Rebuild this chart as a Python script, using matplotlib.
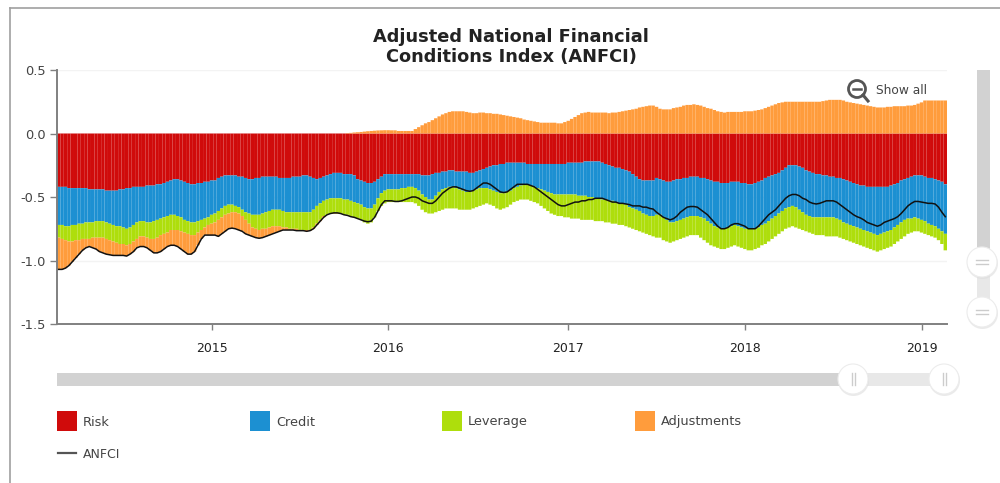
# uses python3
import matplotlib
matplotlib.use("Agg")
import matplotlib.pyplot as plt
from matplotlib.patches import Circle, Rectangle
import numpy as np
import pandas as pd

weeks = pd.date_range("2014-02-21", periods=262, freq="7D")

# lower edge of each stacked layer, week by week
risk = [
    -.42, -.42, -.42, -.43, -.43, -.43, -.43, -.43, -.43, -.44,
    -.44, -.44, -.44, -.44, -.45, -.45, -.45, -.45, -.44, -.44,
    -.43, -.43, -.42, -.42, -.42, -.42, -.41, -.41, -.41, -.40,
    -.40, -.39, -.38, -.37, -.36, -.36, -.37, -.38, -.39, -.40,
    -.40, -.39, -.39, -.38, -.38, -.37, -.37, -.35, -.34, -.33,
    -.33, -.33, -.33, -.34, -.34, -.35, -.36, -.36, -.35, -.35,
    -.34, -.34, -.34, -.34, -.34, -.35, -.35, -.35, -.35, -.34,
    -.34, -.34, -.33, -.33, -.34, -.35, -.36, -.35, -.34, -.33,
    -.32, -.31, -.31, -.31, -.32, -.32, -.32, -.33, -.36, -.37,
    -.38, -.39, -.39, -.38, -.36, -.34, -.32, -.32, -.32, -.32,
    -.32, -.32, -.32, -.32, -.32, -.32, -.32, -.33, -.33, -.33,
    -.32, -.31, -.31, -.30, -.30, -.29, -.29, -.30, -.30, -.30,
    -.30, -.31, -.31, -.30, -.29, -.28, -.27, -.26, -.25, -.25,
    -.24, -.24, -.23, -.23, -.23, -.23, -.23, -.23, -.24, -.24,
    -.24, -.24, -.24, -.24, -.24, -.24, -.24, -.24, -.24, -.24,
    -.23, -.23, -.23, -.23, -.23, -.22, -.22, -.22, -.22, -.22,
    -.23, -.24, -.25, -.26, -.27, -.27, -.28, -.29, -.30, -.32,
    -.34, -.36, -.37, -.37, -.37, -.37, -.35, -.36, -.37, -.38,
    -.38, -.37, -.36, -.36, -.35, -.35, -.34, -.34, -.34, -.35,
    -.35, -.36, -.37, -.38, -.38, -.39, -.39, -.39, -.38, -.38,
    -.38, -.39, -.39, -.40, -.40, -.39, -.38, -.37, -.35, -.34,
    -.33, -.32, -.31, -.29, -.27, -.25, -.25, -.25, -.26, -.27,
    -.29, -.30, -.31, -.32, -.32, -.33, -.33, -.34, -.34, -.35,
    -.35, -.36, -.37, -.38, -.39, -.40, -.41, -.41, -.42, -.42,
    -.42, -.42, -.42, -.42, -.42, -.41, -.40, -.39, -.37, -.36,
    -.35, -.34, -.33, -.33, -.33, -.34, -.35, -.35, -.36, -.37, -.38, -.40]

credit_floor = [
    -.72, -.72, -.73, -.73, -.72, -.72, -.71, -.71, -.70, -.70,
    -.70, -.69, -.69, -.69, -.70, -.71, -.72, -.73, -.73, -.74,
    -.75, -.74, -.72, -.70, -.69, -.69, -.70, -.70, -.69, -.68,
    -.67, -.66, -.65, -.64, -.64, -.65, -.66, -.68, -.69, -.70,
    -.70, -.69, -.68, -.67, -.66, -.64, -.63, -.61, -.59, -.57,
    -.56, -.56, -.57, -.58, -.60, -.62, -.63, -.64, -.64, -.64,
    -.63, -.62, -.61, -.60, -.60, -.60, -.61, -.62, -.62, -.62,
    -.62, -.62, -.62, -.62, -.62, -.60, -.57, -.55, -.53, -.52,
    -.51, -.51, -.51, -.51, -.52, -.52, -.53, -.54, -.55, -.56,
    -.58, -.59, -.59, -.56, -.51, -.47, -.45, -.44, -.44, -.44,
    -.44, -.43, -.43, -.42, -.42, -.43, -.45, -.48, -.50, -.52,
    -.52, -.49, -.46, -.44, -.43, -.42, -.42, -.43, -.44, -.45,
    -.46, -.46, -.45, -.44, -.43, -.43, -.43, -.44, -.45, -.46,
    -.47, -.47, -.46, -.45, -.43, -.42, -.41, -.40, -.40, -.41,
    -.42, -.43, -.44, -.45, -.46, -.47, -.48, -.48, -.48, -.48,
    -.48, -.48, -.48, -.49, -.49, -.49, -.50, -.50, -.51, -.51,
    -.52, -.52, -.53, -.53, -.54, -.55, -.55, -.56, -.58, -.59,
    -.60, -.61, -.63, -.64, -.65, -.65, -.64, -.64, -.66, -.68,
    -.70, -.70, -.69, -.68, -.67, -.66, -.65, -.65, -.65, -.66,
    -.67, -.69, -.71, -.73, -.74, -.75, -.75, -.74, -.73, -.72,
    -.73, -.74, -.75, -.75, -.75, -.75, -.74, -.72, -.71, -.69,
    -.67, -.65, -.63, -.61, -.59, -.58, -.57, -.58, -.60, -.62,
    -.64, -.65, -.66, -.66, -.66, -.66, -.66, -.66, -.66, -.67,
    -.68, -.70, -.71, -.72, -.73, -.74, -.75, -.76, -.77, -.78,
    -.79, -.80, -.79, -.78, -.77, -.76, -.74, -.72, -.70, -.68,
    -.67, -.67, -.66, -.67, -.68, -.69, -.71, -.72, -.73, -.75, -.77, -.79]

leverage_floor = [
    -.82, -.83, -.84, -.85, -.85, -.84, -.84, -.83, -.83, -.83,
    -.82, -.82, -.82, -.82, -.83, -.84, -.85, -.86, -.87, -.87,
    -.88, -.87, -.85, -.83, -.81, -.81, -.82, -.83, -.83, -.82,
    -.80, -.79, -.78, -.76, -.76, -.76, -.77, -.78, -.79, -.80,
    -.80, -.78, -.76, -.74, -.72, -.71, -.70, -.68, -.66, -.64,
    -.63, -.62, -.62, -.63, -.65, -.68, -.71, -.74, -.75, -.76,
    -.75, -.75, -.74, -.73, -.73, -.73, -.74, -.74, -.75, -.75,
    -.75, -.76, -.76, -.76, -.76, -.74, -.71, -.68, -.65, -.64,
    -.63, -.63, -.63, -.63, -.64, -.64, -.65, -.66, -.67, -.68,
    -.70, -.71, -.70, -.66, -.61, -.57, -.55, -.54, -.54, -.54,
    -.54, -.54, -.54, -.54, -.54, -.55, -.57, -.60, -.62, -.63,
    -.63, -.62, -.61, -.60, -.59, -.59, -.59, -.59, -.60, -.60,
    -.60, -.60, -.59, -.58, -.57, -.56, -.55, -.56, -.57, -.59,
    -.60, -.59, -.58, -.56, -.54, -.53, -.52, -.52, -.52, -.53,
    -.54, -.55, -.57, -.59, -.61, -.63, -.64, -.65, -.65, -.66,
    -.66, -.67, -.67, -.67, -.68, -.68, -.68, -.68, -.69, -.69,
    -.69, -.70, -.70, -.71, -.71, -.72, -.72, -.73, -.74, -.75,
    -.76, -.77, -.78, -.79, -.80, -.81, -.82, -.82, -.84, -.85,
    -.86, -.85, -.84, -.83, -.82, -.81, -.80, -.80, -.80, -.82,
    -.84, -.86, -.88, -.89, -.90, -.91, -.91, -.90, -.89, -.88,
    -.89, -.90, -.91, -.92, -.92, -.91, -.90, -.88, -.87, -.85,
    -.83, -.81, -.79, -.77, -.75, -.74, -.73, -.74, -.75, -.76,
    -.77, -.78, -.79, -.80, -.80, -.80, -.81, -.81, -.81, -.81,
    -.82, -.83, -.84, -.85, -.86, -.87, -.88, -.89, -.90, -.91,
    -.92, -.93, -.92, -.91, -.90, -.89, -.87, -.85, -.83, -.81,
    -.79, -.78, -.77, -.77, -.78, -.79, -.80, -.81, -.82, -.84, -.87, -.92]

anfci = [
    -1.07, -1.07, -1.06, -1.04, -1.01, -.98, -.95, -.92, -.90, -.89,
    -.90, -.91, -.93, -.94, -.95, -.955, -.96, -.96, -.96, -.96,
    -.965, -.95, -.93, -.90, -.89, -.89, -.90, -.92, -.94, -.94,
    -.93, -.91, -.89, -.88, -.88, -.89, -.91, -.93, -.95, -.95,
    -.93, -.88, -.83, -.80, -.80, -.80, -.80, -.81, -.79, -.77,
    -.75, -.745, -.75, -.76, -.77, -.79, -.80, -.81, -.82, -.825,
    -.82, -.81, -.80, -.79, -.78, -.77, -.76, -.76, -.76, -.76,
    -.765, -.765, -.765, -.77, -.765, -.75, -.72, -.69, -.66, -.64,
    -.63, -.625, -.625, -.63, -.64, -.645, -.655, -.66, -.67, -.68,
    -.69, -.695, -.69, -.66, -.61, -.56, -.53, -.53, -.53, -.535,
    -.535, -.53, -.52, -.51, -.50, -.50, -.51, -.53, -.54, -.55,
    -.55, -.53, -.50, -.47, -.45, -.43, -.42, -.42, -.43, -.44,
    -.45, -.455, -.45, -.43, -.41, -.39, -.39, -.40, -.42, -.44,
    -.46, -.465, -.46, -.44, -.42, -.40, -.40, -.40, -.40, -.41,
    -.42, -.44, -.46, -.48, -.50, -.52, -.54, -.56, -.57, -.57,
    -.56, -.55, -.54, -.54, -.53, -.53, -.52, -.52, -.51, -.51,
    -.51, -.52, -.53, -.54, -.54, -.55, -.55, -.555, -.56, -.57,
    -.57, -.57, -.58, -.58, -.59, -.595, -.62, -.64, -.66, -.67,
    -.68, -.67, -.65, -.62, -.60, -.58, -.575, -.575, -.58, -.60,
    -.62, -.64, -.67, -.70, -.73, -.75, -.75, -.74, -.72, -.71,
    -.71, -.72, -.73, -.75, -.75, -.75, -.73, -.70, -.67, -.64,
    -.62, -.60, -.57, -.54, -.51, -.49, -.48, -.48, -.49, -.51,
    -.52, -.54, -.55, -.555, -.55, -.54, -.53, -.53, -.53, -.54,
    -.56, -.58, -.60, -.62, -.64, -.655, -.665, -.68, -.70, -.71,
    -.72, -.73, -.72, -.70, -.69, -.68, -.67, -.655, -.63, -.60,
    -.57, -.55, -.535, -.535, -.54, -.545, -.55, -.55, -.555, -.58, -.62, -.655]

# adjustments turn positive from week 83 on
adj_start = 83
adjustments_up = [
    0, 0, .003, .005, .008, .01, .012,
    .015, .018, .02, .022, .024, .025, .026, .026, .025, .025,
    .02, .02, .02, .02, .02, .035, .05, .065, .08, .09,
    .105, .12, .135, .15, .16, .17, .175, .175, .175, .175,
    .17, .165, .16, .16, .165, .165, .16, .16, .155, .155,
    .15, .145, .14, .135, .13, .125, .12, .11, .105, .10,
    .095, .09, .085, .085, .085, .085, .085, .08, .08, .09,
    .10, .115, .13, .145, .16, .165, .17, .165, .165, .165,
    .165, .165, .16, .165, .165, .17, .175, .18, .185, .19,
    .195, .205, .21, .215, .22, .22, .21, .195, .19, .19,
    .19, .20, .205, .21, .22, .225, .225, .23, .225, .22,
    .21, .20, .195, .185, .175, .17, .165, .17, .17, .17,
    .17, .17, .175, .175, .175, .18, .185, .19, .20, .21,
    .22, .23, .24, .245, .25, .25, .25, .25, .25, .25,
    .25, .25, .25, .25, .25, .255, .26, .265, .265, .265,
    .265, .26, .25, .245, .24, .235, .23, .225, .22, .215,
    .21, .205, .205, .205, .21, .21, .215, .215, .215, .215,
    .22, .22, .225, .235, .245, .26, .26, .26, .26, .26, .26, .26]

legend_names = ["Risk", "Credit", "Leverage", "Adjustments"]
colors = ["#d00b0b", "#1c90d2", "#aede0c", "#ff9c3c"]
yticks = [0.5, 0.0, -0.5, -1.0, -1.5]

GREY = "#808080"
TXT = "#444444"

fig = plt.figure(figsize=(10, 4.83), dpi=100)
W = 1000.0; H = 483.0

# page level stuff (frame, sliders, legend) is drawn in pixel coordinates
page = fig.add_axes([0, 0, 1, 1], zorder=3)
page.set_xlim(0, W); page.set_ylim(H, 0)
page.axis("off")

ax = fig.add_axes([57 / W, 1 - 324 / H, 890 / W, 254 / H], zorder=1)
x = np.arange(len(weeks))
r = np.array(risk); c = np.array(credit_floor); l = np.array(leverage_floor); a = np.array(anfci)
up = np.zeros(len(x)); up[adj_start:] = adjustments_up
down = np.where(x < adj_start, a - l, 0)

# full width bars with snapping off, only faint seams stay between them
def stack(vals, base, col):
    bars = ax.bar(x, vals, 1.0, bottom=base, color=col, linewidth=0)
    for b in bars:
        b.set_snap(False)

stack(r, 0, colors[0])
stack(c - r, r, colors[1])
stack(l - c, c, colors[2])
stack(down, l, colors[3])
stack(up, 0, colors[3])
ax.plot(x, a, color="#111111", lw=1.1, zorder=4)

ax.set_xlim(-0.5, len(x) - 0.5)
ax.set_ylim(-1.5, 0.5)
ax.set_yticks(yticks)
ax.set_yticklabels(["%.1f" % v for v in yticks], fontsize=9.4, color=TXT)
ax.yaxis.grid(True, color="#f3f3f3", lw=1)
ax.set_axisbelow(True)

# first week of each year gets a tick
first = [i for i in x if i > 0 and weeks[i].year != weeks[i - 1].year]
ax.set_xticks(first)
ax.set_xticklabels([str(weeks[i].year) for i in first], fontsize=9, color="#222222")
ax.tick_params(axis="x", length=4, width=1, color=GREY, pad=9)
ax.tick_params(axis="y", length=5, width=1, color=GREY, pad=3)
for s in ["top", "right"]:
    ax.spines[s].set_visible(False)
for s in ["left", "bottom"]:
    ax.spines[s].set_color(GREY)
    ax.spines[s].set_linewidth(1.4)

page.text(511, 47, "Adjusted National Financial\nConditions Index (ANFCI)", ha="center", va="center",
          fontsize=12.8, fontweight="bold", color="#222222", linespacing=1.08)

# outer frame
page.plot([9.5, 9.5], [H, 8], color="#a0a0a0", lw=1.2)
page.plot([9.5, W], [8, 8], color="#a0a0a0", lw=1.2)

# show all button
page.add_patch(Circle((857, 89), 8.5, fc="none", ec="#555555", lw=2))
page.plot([853, 861], [89, 89], color="#555555", lw=1.8)
page.plot([863, 868], [95, 101], color="#555555", lw=2.2)
page.text(876, 91, "Show all", fontsize=8.8, color=TXT, va="center")

def handle(cx, cy, vertical):
    page.add_patch(Circle((cx + 0.5, cy + 1.5), 15.5, fc="#dddddd", ec="none", alpha=0.6))
    page.add_patch(Circle((cx, cy), 15, fc="white", ec="#ececec", lw=0.8))
    if vertical:
        page.plot([cx - 6, cx + 6], [cy - 2, cy - 2], color="#cccccc", lw=1)
        page.plot([cx - 6, cx + 6], [cy + 2, cy + 2], color="#cccccc", lw=1)
    else:
        page.plot([cx - 1.5, cx - 1.5], [cy - 6, cy + 6], color="#cccccc", lw=1)
        page.plot([cx + 1.5, cx + 1.5], [cy - 6, cy + 6], color="#cccccc", lw=1)

# vertical range slider
page.add_patch(Rectangle((977, 70), 12.5, 192, fc="#d2d2d2", ec="none"))
page.add_patch(Rectangle((977, 262), 12.5, 50, fc="#e8e8e8", ec="none"))
handle(982, 262, True)
handle(982, 312, True)

# horizontal range slider
page.add_patch(Rectangle((57, 373), 796, 13, fc="#d2d2d2", ec="none"))
page.add_patch(Rectangle((853, 373), 91, 13, fc="#e8e8e8", ec="none"))
handle(853, 379, False)
handle(944, 379, False)

# legend
for name, col, lx in zip(legend_names, colors, [57, 250, 442, 635]):
    page.add_patch(Rectangle((lx, 411), 20, 20, fc=col, ec="none"))
    page.text(lx + 26, 422, name, fontsize=9.3, color=TXT, va="center")
page.plot([58, 76], [453, 453], color="#555555", lw=1.6)
page.text(83, 455, "ANFCI", fontsize=9, color=TXT, va="center")

fig.savefig("out.png", dpi=100)
